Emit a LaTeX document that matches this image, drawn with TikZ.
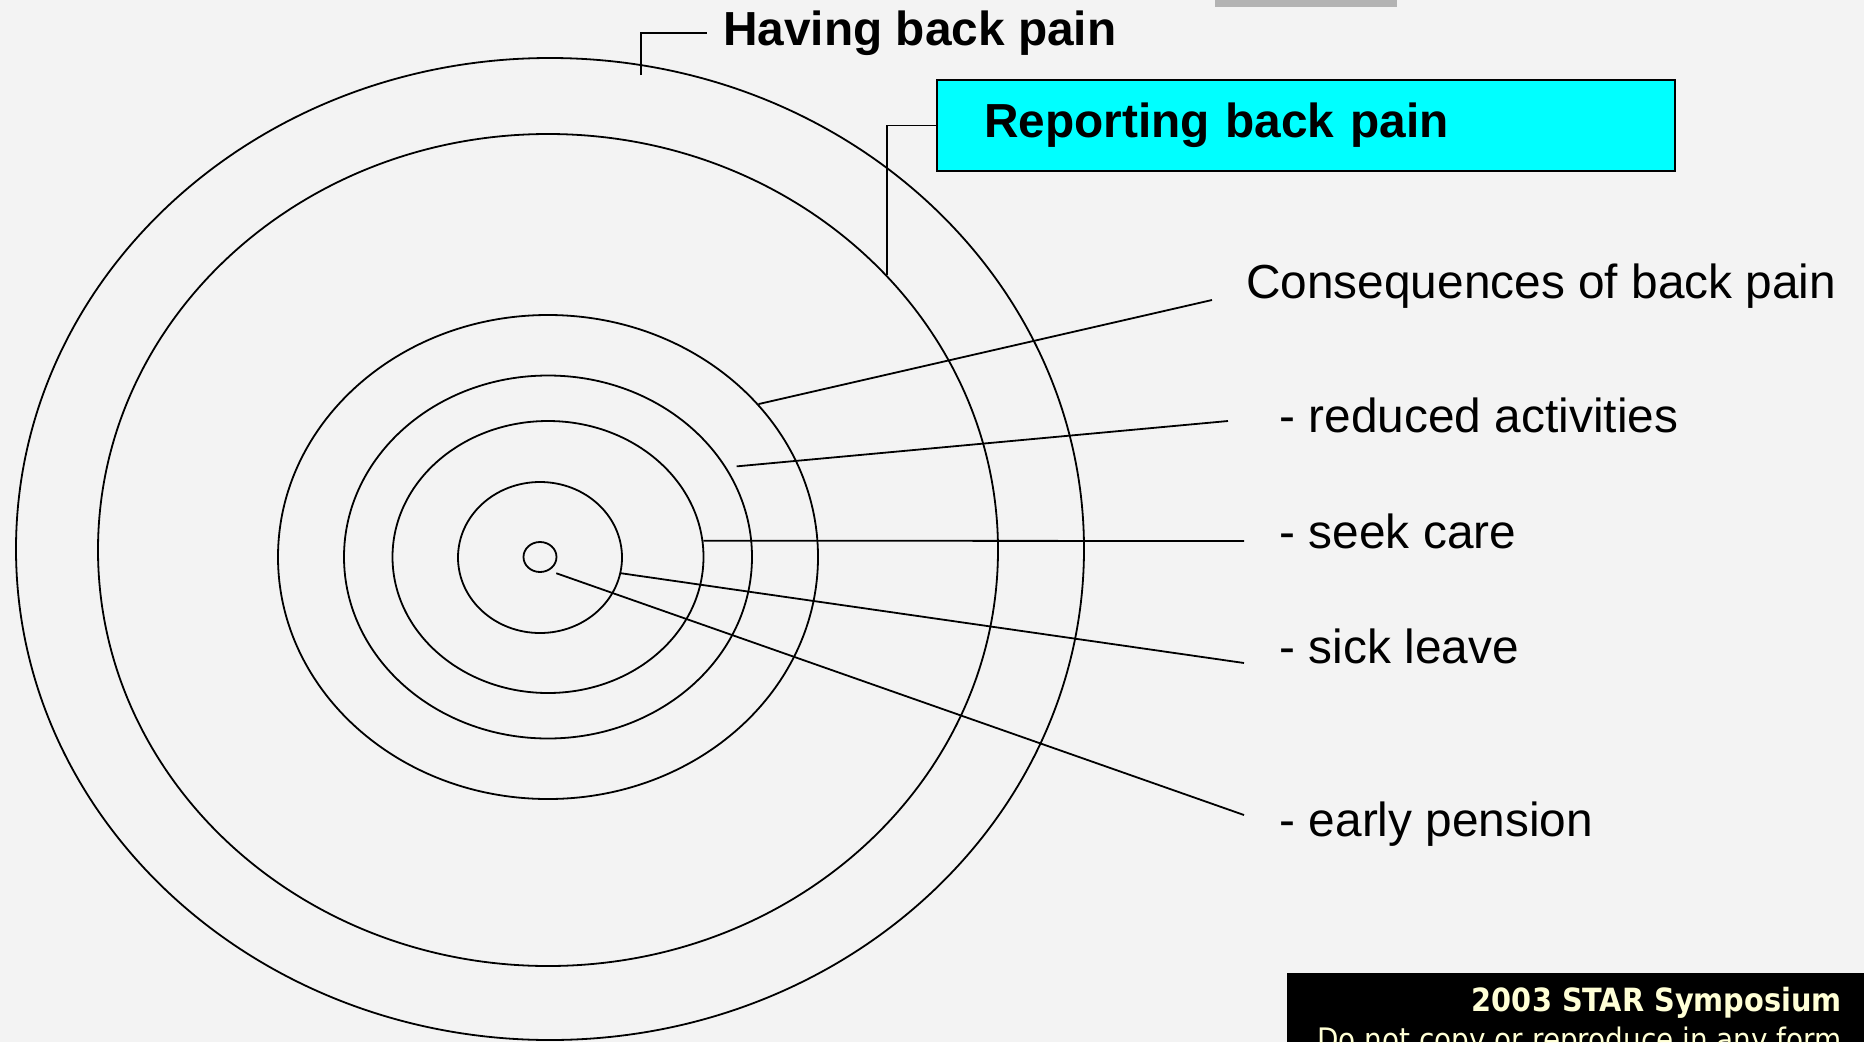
\documentclass[tikz,border=0pt]{standalone}
\usepackage{fontspec}
\setmainfont{Liberation Sans}
\newfontfamily\footfont{DejaVu Sans Condensed}
\usepackage{tikz}
\usetikzlibrary{shapes.geometric,positioning}
\definecolor{pagebg}{RGB}{243,243,243}
\definecolor{tabgrey}{RGB}{179,179,179}
\definecolor{callout}{RGB}{0,255,255}
\definecolor{cream}{RGB}{255,255,214}
\tikzset{
  ring/.style={draw,ellipse,inner sep=0pt,line width=1.8pt},
  lead/.style={draw,line width=1.8pt},
  bigtxt/.style={font=\fontsize{47.8}{57}\selectfont,inner sep=0pt,anchor=base west},
  headtxt/.style={bigtxt,font=\fontsize{47.8}{57}\selectfont\bfseries},
  calloutbox/.style={draw,fill=callout,line width=2pt,anchor=north west,align=left,
                     font=\fontsize{47.8}{57}\selectfont\bfseries,inner ysep=0pt},
  foottxt/.style={text=cream,inner sep=0pt,anchor=base east},
}

\begin{document}
\begin{tikzpicture}[x=1pt,y=-1pt]
  \useasboundingbox (0,0) rectangle (1864,1042);
  \fill[pagebg] (0,0) rectangle (1864,1042);
  \fill[tabgrey] (1215,0) rectangle (1397,7.3);

  % nested rings
  \node[ring,minimum width=1068pt,minimum height=982pt] (e1) at (550,549)   {};
  \node[ring,minimum width=900pt, minimum height=832pt] (e2) at (548,550)   {};
  \node[ring,minimum width=540pt, minimum height=484pt] (e3) at (548,557)   {};
  \node[ring,minimum width=408pt, minimum height=363pt] (e4) at (548,557)   {};
  \node[ring,minimum width=311pt, minimum height=272pt] (e5) at (548,557)   {};
  \node[ring,minimum width=164pt, minimum height=151pt] (e6) at (540,557.5) {};
  \node[ring,minimum width=33pt,  minimum height=30pt]  (e7) at (540,557)   {};

  % headings
  \coordinate (havetail) at (641,75);
  \node[headtxt,inner xsep=16pt] (have) at (707,45) {Having back pain};
  \draw[lead] (havetail) |- (have.west);

  \node[calloutbox,minimum width=738pt,minimum height=91pt,text width=644pt,
        inner xsep=47pt] (rep) at (936,79) {Reporting back pain};
  \draw[lead] (e2.39) |- (rep.west);

  % consequences
  \node[bigtxt] (cons)  at (1246,298)   {Consequences of back pain};
  \node[bigtxt] (red)   at (1279.5,432) {- reduced activities};
  \node[bigtxt] (seek)  at (1279.5,548) {- seek care};
  \node[bigtxt] (sick)  at (1279.5,663) {- sick leave};
  \node[bigtxt] (early) at (1279.5,836) {- early pension};

  \coordinate (consend)  at (1212,300);
  \coordinate (redend)   at (1228,421);
  \coordinate (seekend)  at (1244,541);
  \coordinate (sickend)  at (1244,663);
  \coordinate (earlyend) at (1244,815);

  \draw[lead] (e3.36) -- (consend);
  \draw[lead] ([shift={(9,-3)}]e4.26) -- (redend);
  \draw[lead] (e5.6) -- (seekend);
  \draw[lead] (e6.349) -- (sickend);
  \draw[lead] ([shift={(4,5)}]e7.south east) -- (earlyend);

  % footer
  \node[fill=black,anchor=north west,minimum width=577pt,minimum height=69pt,
        inner sep=0pt] (foot) at (1287,973) {};
  \node[foottxt,font=\footfont\fontsize{32}{38}\selectfont\bfseries] (sym)
    at (1842,1011) {2003 STAR Symposium};
  \node[foottxt,font=\footfont\fontsize{31}{37}\selectfont] (nocopy)
    at (1842,1050) {Do not copy or reproduce in any form};
\end{tikzpicture}
\end{document}
